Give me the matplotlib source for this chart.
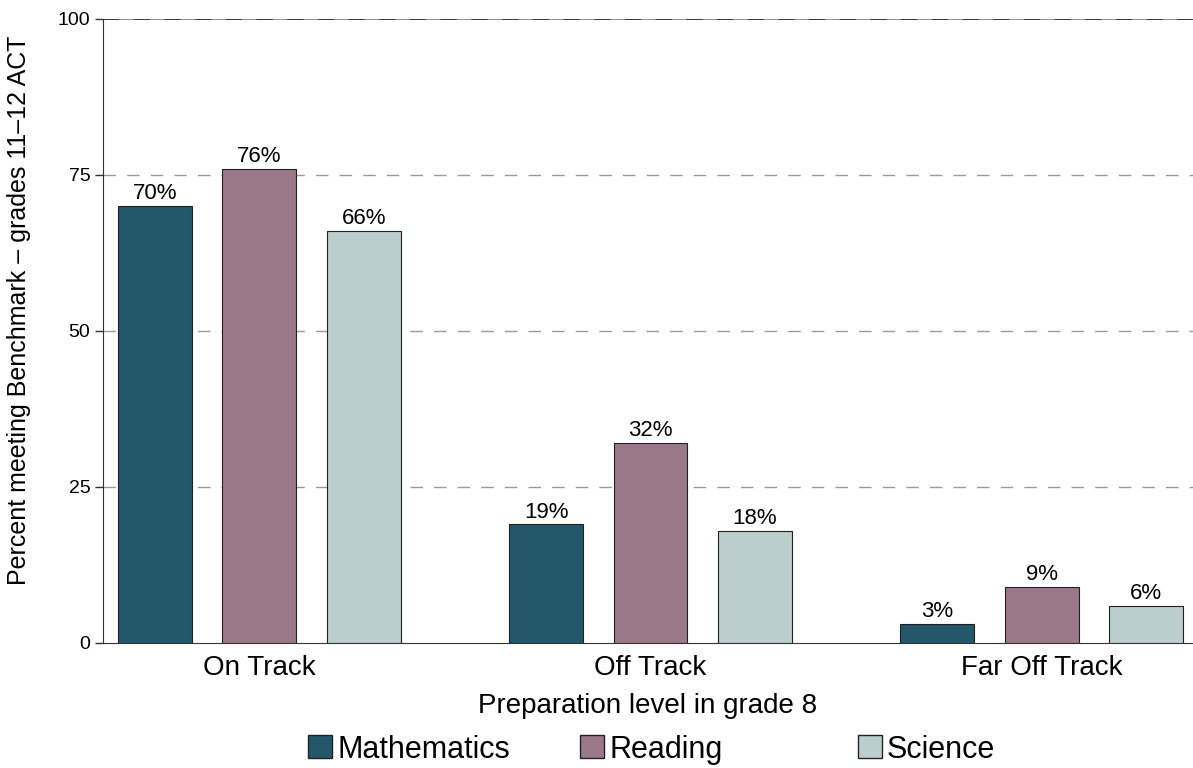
import numpy as np
import matplotlib
matplotlib.use("Agg")
import matplotlib.pyplot as plt
from matplotlib.patches import Patch

plt.rcParams['font.family'] = ['Liberation Sans', 'DejaVu Sans']

# data
categories = ["On Track", "Off Track", "Far Off Track"]
series = ["Mathematics", "Reading", "Science"]
math_vals = [70, 19, 3]
reading_vals = [76, 32, 9]
science_vals = [66, 18, 6]
yticks = [0, 25, 50, 75, 100]

colors = ["#245769", "#9B7887", "#BBCDCC"]

fig = plt.figure(figsize=(11.93, 7.68), dpi=100)
ax = fig.add_axes([0.0863, 0.1628, 0.9137, 0.8125])

x = np.arange(len(categories))
width = 0.189
offs = 0.267
for i, (vals, col) in enumerate(zip([math_vals, reading_vals, science_vals], colors)):
    bars = ax.bar(x + (i - 1) * offs, vals, width, color=col, edgecolor="#222222",
                  linewidth=0.8, zorder=3)
    for b, v in zip(bars, vals):
        ax.text(b.get_x() + b.get_width() / 2, v + 0.3, f"{v}%", ha="center",
                va="bottom", fontsize=16, zorder=4)

# grid
for yv in yticks[1:-1]:
    ax.axhline(yv, color="#9a9a9a", lw=1, ls=(0, (9, 8)), zorder=1)
ax.axhline(100, color="#888888", lw=1.3, zorder=1)
ax.axhline(100, color="#333333", lw=1.3, ls=(0, (9, 8)), zorder=2)

ax.set_xlim(-0.40, 2.387)
ax.set_ylim(0, 100)
ax.set_yticks(yticks)
ax.set_yticklabels([str(t) for t in yticks], fontsize=14)
ax.set_xticks(x)
ax.set_xticklabels(categories, fontsize=20)
ax.tick_params(axis="x", length=0, pad=9)
ax.tick_params(axis="y", length=6, width=1, color="#333333", pad=3)

for s in ["top", "right"]:
    ax.spines[s].set_visible(False)
ax.spines["left"].set_color("#333333")
ax.spines["bottom"].set_color("#333333")

ax.set_xlabel("Preparation level in grade 8", fontsize=20, labelpad=8)
ax.set_ylabel("Percent meeting Benchmark – grades 11–12 ACT", fontsize=18)
ax.yaxis.set_label_coords(-0.066, 0.534)

# legend, one entry per fixed column
leg_x = [0.258, 0.486, 0.719]
for name, col, lx in zip(series, colors, leg_x):
    h = Patch(facecolor=col, edgecolor="#222222", linewidth=1)
    fig.legend(handles=[h], labels=[name], loc="center left",
               bbox_to_anchor=(lx, 0.024), frameon=False, fontsize=22,
               handlelength=0.78, handleheight=0.78, handletextpad=0.18,
               borderpad=0, borderaxespad=0)

fig.savefig("out.png", dpi=100)
